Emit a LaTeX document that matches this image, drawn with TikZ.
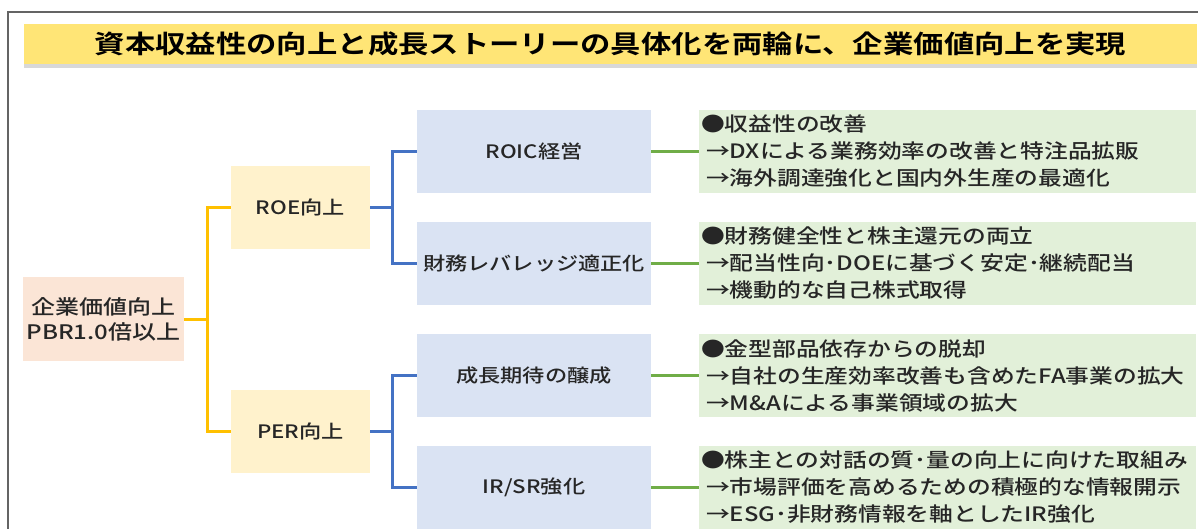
\documentclass[tikz,border=0pt]{standalone}
\usepackage{fontspec}
\newfontfamily\jp[FakeStretch=1.2]{Noto Sans CJK JP Medium}
\newfontfamily\jpbold[FakeStretch=1.2]{Noto Sans CJK JP Bold}
\usetikzlibrary{shadows}
\definecolor{FrameGray}{RGB}{100,100,100}
\definecolor{TitleYellow}{RGB}{255,229,118}
\definecolor{RootPink}{RGB}{251,229,214}
\definecolor{MidCream}{RGB}{255,242,204}
\definecolor{SubBlue}{RGB}{218,227,243}
\definecolor{NoteGreen}{RGB}{226,240,217}
\definecolor{LinkYellow}{RGB}{255,192,0}
\definecolor{LinkBlue}{RGB}{68,114,196}
\definecolor{LinkGreen}{RGB}{112,173,71}
\definecolor{Ink}{RGB}{38,38,38}

\begin{document}
\begin{tikzpicture}[x=1pt, y=-1pt,
  box/.style={inner sep=0pt, align=center, text=Ink, font=\jp\fontsize{18.5}{25}\selectfont},
  rootbox/.style={box, fill=RootPink, minimum width=161pt, minimum height=84pt, font=\jp\fontsize{20}{25}\selectfont},
  midbox/.style={box, fill=MidCream, minimum width=139pt, minimum height=83pt},
  subbox/.style={box, fill=SubBlue, minimum width=234pt, minimum height=83pt},
  notebox/.style={box, fill=NoteGreen, minimum height=83pt, align=left, text width=493pt, inner xsep=2pt, font=\jp\fontsize{19.8}{27}\selectfont},
  link/.style={line width=3pt}]
\useasboundingbox (0,0) rectangle (1198,529);
\fill[white] (0,0) rectangle (1198,529);
\draw[FrameGray, line width=2pt] (8,529) -- (8,12) -- (1198,12);
\node[box, fill=TitleYellow, minimum width=1173pt, minimum height=40pt, text=black,
  drop shadow={shadow xshift=0pt, shadow yshift=-4pt, opacity=0.3},
  font=\jpbold\fontsize{25.3}{30}\selectfont] (title) at (610.5,44)
  {資本収益性の向上と成長ストーリーの具体化を両輪に、企業価値向上を実現};
\node[rootbox] (root) at (103.5,319) {企業価値向上\\PBR1.0倍以上};
\node[midbox] (roe) at (300.5,207.5) {ROE向上};
\node[midbox] (per) at (300.5,431.5) {PER向上};
\node[subbox] (roic) at (534,151.5) {ROIC経営};
\node[subbox] (lev) at (534,263.5) {財務レバレッジ適正化};
\node[subbox] (growth) at (534,375.5) {成長期待の醸成};
\node[subbox] (irsr) at (534,487.5) {IR/SR強化};
\node[notebox] (n1) at (947.5,151.5) {●収益性の改善\\\hspace*{5pt}→DXによる業務効率の改善と特注品拡販\\\hspace*{5pt}→海外調達強化と国内外生産の最適化};
\node[notebox] (n2) at (947.5,263.5) {●財務健全性と株主還元の両立\\\hspace*{5pt}→配当性向･DOEに基づく安定･継続配当\\\hspace*{5pt}→機動的な自己株式取得};
\node[notebox] (n3) at (947.5,375.5) {●金型部品依存からの脱却\\\hspace*{5pt}→自社の生産効率改善も含めたFA事業の拡大\\\hspace*{5pt}→M\&Aによる事業領域の拡大};
\node[notebox] (n4) at (947.5,487.5) {●株主との対話の質･量の向上に向けた取組み\\\hspace*{5pt}→市場評価を高めるための積極的な情報開示\\\hspace*{5pt}→ESG･非財務情報を軸としたIR強化};
\draw[link, LinkYellow] (root.east) -- ++(23,0) coordinate (ysplit) |- (roe.west);
\draw[link, LinkYellow] (ysplit) |- (per.west);
\draw[link, LinkBlue] (roe.east) -- ++(22,0) coordinate (rsplit) |- (roic.west);
\draw[link, LinkBlue] (rsplit) |- (lev.west);
\draw[link, LinkBlue] (per.east) -- ++(22,0) coordinate (psplit) |- (growth.west);
\draw[link, LinkBlue] (psplit) |- (irsr.west);
\foreach \a/\b in {roic/n1, lev/n2, growth/n3, irsr/n4}
  \draw[link, LinkGreen] (\a.east) -- (\b.west);
\end{tikzpicture}
\end{document}
